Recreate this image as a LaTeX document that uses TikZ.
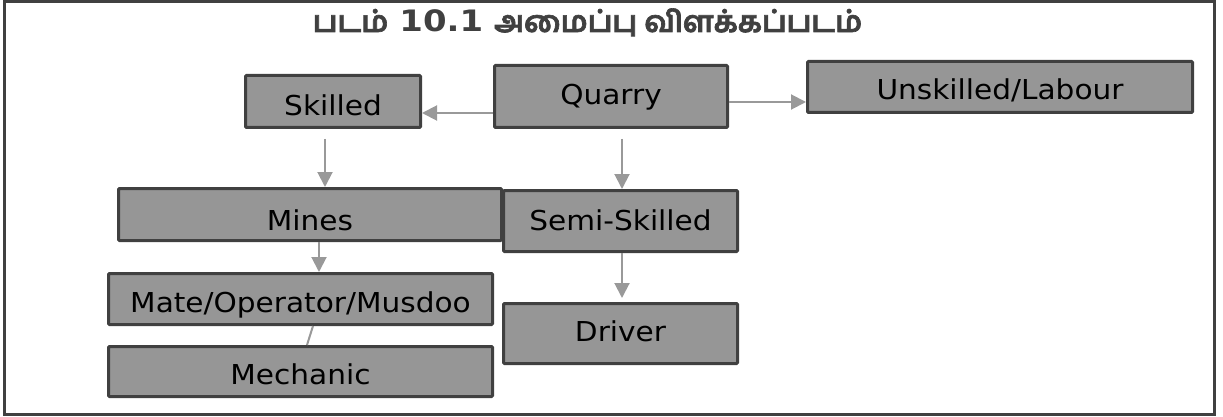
\documentclass[tikz,border=0pt]{standalone}
\usepackage{fontspec}
\setmainfont{DejaVu Sans}[FakeStretch=1.08]
\newfontfamily\tamilfont[Script=Tamil, FakeBold=2.2]{Hind Madurai}
\newfontfamily\digfont{DejaVu Sans}[FakeStretch=1.15]
\usetikzlibrary{arrows.meta}
\definecolor{boxfill}{HTML}{969696}
\definecolor{boxline}{HTML}{404040}
\definecolor{arrgray}{HTML}{999999}
\definecolor{titlecol}{HTML}{404040}
\begin{document}
\begin{tikzpicture}[x=1pt,y=-1pt,
  box/.style={draw=boxline, fill=boxfill, line width=3pt, rounded corners=1pt,
    inner sep=0pt, font=\fontsize{27.4}{30}\selectfont, text=black,
    text depth=0pt, text height=#1},
  arr/.style={draw=arrgray, line width=2pt, -{Triangle[length=15pt,width=15pt]}},
  link/.style={draw=arrgray, line width=2pt}]
\useasboundingbox (0,0) rectangle (1223,417);
\draw[boxline, line width=3pt] (4.5,1.5) rectangle (1214.5,414);
\node[anchor=base, text=titlecol, inner sep=0pt,
  font=\fontsize{29.5}{32}\selectfont\bfseries] (title) at (587.5,32)
  {{\tamilfont படம்} {\digfont 10.1} {\tamilfont அமைப்பு விளக்கப்படம்}};
\node[box=28pt, minimum width=175pt, minimum height=52pt] (skilled) at (333,101.5) {Skilled};
\node[box=17pt, minimum width=233pt, minimum height=62pt] (quarry) at (611,96.5) {Quarry};
\node[box=26pt, minimum width=385pt, minimum height=51pt] (unskilled) at (1000,87) {Unskilled/Labour};
\node[box=31pt, minimum width=383pt, minimum height=52pt] (mines) at (310,214.5) {Mines};
\node[box=18pt, minimum width=234pt, minimum height=61pt] (semi) at (620.5,221) {Semi-Skilled};
\node[box=27.4pt, minimum width=384pt, minimum height=51pt] (mate) at (300.5,299) {Mate/Operator/Musdoo};
\node[box=25pt, minimum width=384pt, minimum height=50pt] (mechanic) at (300.5,371.5) {Mechanic};
\node[box=16pt, minimum width=234pt, minimum height=60pt] (driver) at (620.5,333.5) {Driver};
% connector end points
\coordinate (qw) at ([yshift=-16.5pt]quarry.west);
\coordinate (qe) at ([yshift=-5.5pt]quarry.east);
\coordinate (sks) at ([xshift=-8pt,yshift=-10pt]skilled.south);
\coordinate (qs) at ([xshift=11pt,yshift=-10pt]quarry.south);
\coordinate (ss) at ([xshift=1.5pt]semi.south);
\coordinate (ms) at ([xshift=9pt]mines.south);
% connectors
\draw[arr] (qw) -- (skilled.east |- qw);
\draw[arr] (qe) -- (unskilled.west |- qe);
\draw[arr] (sks) -- (sks |- mines.north);
\draw[arr] (qs) -- (qs |- semi.north);
\draw[arr] (ss) -- ([yshift=4pt]ss |- driver.north);
\draw[arr] (ms) -- (ms |- mate.north);
\draw[link] ([xshift=12.5pt]mate.south) -- ([xshift=6.5pt]mechanic.north);
\end{tikzpicture}
\end{document}
